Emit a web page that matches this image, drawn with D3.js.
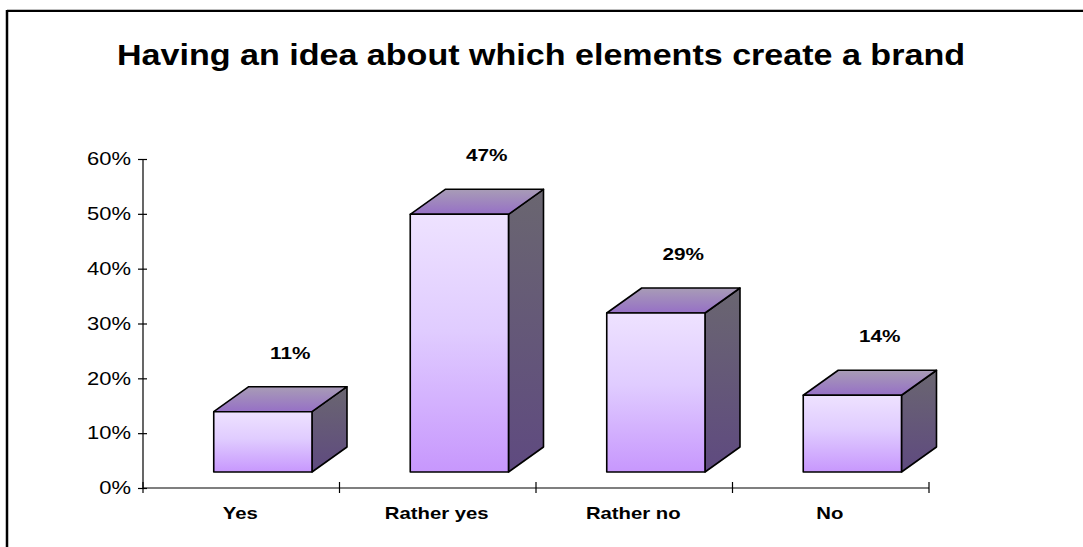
<!DOCTYPE html>
<html>
<head>
<meta charset="utf-8">
<script src="https://cdn.jsdelivr.net/npm/d3@7"></script>
<style>
  html, body { margin: 0; padding: 0; background: #fff; }
  svg { display: block; }
  text { font-family: Arial, "Liberation Sans", sans-serif; fill: #000; }
</style>
</head>
<body>
<svg id="chart" width="1083" height="547"></svg>
<script>
// Survey answers and their shares (percent)
const categories = ["Yes", "Rather yes", "Rather no", "No"];
const shares = [11, 47, 29, 14];
const valueLabels = ["11%", "47%", "29%", "14%"];
const yTicks = [0, 10, 20, 30, 40, 50, 60];
const yTickLabels = ["0%", "10%", "20%", "30%", "40%", "50%", "60%"];
const title = "Having an idea about which elements create a brand";

const svg = d3.select("#chart");
const W = 1083, H = 547;

// widen a text element horizontally around its anchor point
function widen(sel, sx) {
  sel.each(function () {
    const t = d3.select(this);
    const tx = +t.attr("x") || 0, ty = +t.attr("y") || 0;
    t.attr("x", 0).attr("y", 0)
      .attr("transform", `translate(${tx},${ty}) scale(${sx},1)`);
  });
}

// chart frame (top and left edges)
svg.append("line").attr("x1", 7).attr("x2", W).attr("y1", 9.5).attr("y2", 9.5)
  .attr("stroke", "#bdbdbd").attr("stroke-width", 1);
svg.append("line").attr("x1", 7).attr("x2", W).attr("y1", 11).attr("y2", 11)
  .attr("stroke", "#000").attr("stroke-width", 2);
svg.append("line").attr("x1", 7).attr("x2", 7).attr("y1", 10).attr("y2", H)
  .attr("stroke", "#000").attr("stroke-width", 2.5);

// title
svg.append("text").attr("x", 541).attr("y", 65)
  .attr("text-anchor", "middle").attr("font-size", 30).attr("font-weight", "bold")
  .attr("textLength", 848).attr("lengthAdjust", "spacingAndGlyphs")
  .text(title);

// scales
const x = d3.scaleBand().domain(categories).range([143, 929]).padding(0);
const y = d3.scaleLinear().domain([0, 60]).range([488, 159]);
const bw = x.bandwidth();

// 3D geometry of the columns
const depthX = 35, depthY = -25, lift = 16;
const faceLeft = c => x(c) + bw * 0.36;
const faceW = bw * 0.5;

const defs = svg.append("defs");
const gFront = defs.append("linearGradient").attr("id", "gFront")
  .attr("x1", 0).attr("y1", 0).attr("x2", 0).attr("y2", 1);
gFront.append("stop").attr("offset", "0%").attr("stop-color", "#EEE2FF");
gFront.append("stop").attr("offset", "45%").attr("stop-color", "#E0CCFF");
gFront.append("stop").attr("offset", "100%").attr("stop-color", "#C797FD");
const gSide = defs.append("linearGradient").attr("id", "gSide")
  .attr("x1", 0).attr("y1", 0).attr("x2", 0).attr("y2", 1);
gSide.append("stop").attr("offset", "0%").attr("stop-color", "#6A6670");
gSide.append("stop").attr("offset", "100%").attr("stop-color", "#5F4A80");
const gTop = defs.append("linearGradient").attr("id", "gTop")
  .attr("x1", 0).attr("y1", 0).attr("x2", 0).attr("y2", 1);
gTop.append("stop").attr("offset", "0%").attr("stop-color", "#A89CB6");
gTop.append("stop").attr("offset", "100%").attr("stop-color", "#9670C6");

// axes
const yAxis = svg.append("g").attr("transform", "translate(143,0)")
  .call(d3.axisLeft(y).tickValues(yTicks).tickSize(5).tickPadding(7)
    .tickFormat((d, i) => yTickLabels[i]));
yAxis.selectAll(".tick").append("line").attr("x2", 4).attr("stroke", "#000");
yAxis.select(".domain").attr("d", `M0,${y(0)}V${y(60)}`).attr("stroke-width", 1.2);
yAxis.selectAll(".tick line").attr("stroke-width", 1.2);
yAxis.selectAll(".tick text").attr("font-size", 18)
  .attr("font-family", "Arial, 'Liberation Sans', sans-serif");
widen(yAxis.selectAll(".tick text"), 1.22);

const edges = categories.map(c => x(c)).concat([x(categories[categories.length - 1]) + bw]);
const xAxis = svg.append("g").attr("transform", `translate(0,${y(0)})`);
xAxis.append("line").attr("x1", edges[0]).attr("x2", edges[edges.length - 1])
  .attr("stroke", "#000").attr("stroke-width", 1.2);
xAxis.selectAll("line.tk").data(edges).join("line").attr("class", "tk")
  .attr("x1", d => d).attr("x2", d => d).attr("y1", -6).attr("y2", 5)
  .attr("stroke", "#000").attr("stroke-width", 1.2);
const catText = xAxis.selectAll("text").data(categories).join("text")
  .attr("x", c => x(c) + bw / 2 - 1).attr("y", 31)
  .attr("text-anchor", "middle").attr("font-size", 16).attr("font-weight", "bold")
  .text(c => c);
widen(catText, 1.27);

// columns
const bars = svg.append("g").selectAll("g").data(categories).join("g");
bars.each(function (c, i) {
  const g = d3.select(this);
  const x0 = faceLeft(c), x1 = x0 + faceW;
  const yb = y(0) - lift, yt = y(shares[i]) - lift;
  const stroke = { stroke: "#000", "stroke-width": 1.6, "stroke-linejoin": "round" };
  const side = g.append("path")
    .attr("d", `M${x1},${yb}L${x1 + depthX},${yb + depthY}L${x1 + depthX},${yt + depthY}L${x1},${yt}Z`)
    .attr("fill", "url(#gSide)");
  const top = g.append("path")
    .attr("d", `M${x0},${yt}L${x0 + depthX},${yt + depthY}L${x1 + depthX},${yt + depthY}L${x1},${yt}Z`)
    .attr("fill", "url(#gTop)");
  const front = g.append("rect").attr("x", x0).attr("y", yt)
    .attr("width", faceW).attr("height", yb - yt).attr("fill", "url(#gFront)");
  [side, top, front].forEach(s => Object.entries(stroke).forEach(([k, v]) => s.attr(k, v)));
  // value label above the column
  const lbl = g.append("text").attr("x", x(c) + bw / 2 + 49).attr("y", yt + depthY - 28)
    .attr("text-anchor", "middle")
    .attr("font-size", 17).attr("font-weight", "bold").text(valueLabels[i]);
  widen(lbl, 1.22);
});
</script>
</body>
</html>
